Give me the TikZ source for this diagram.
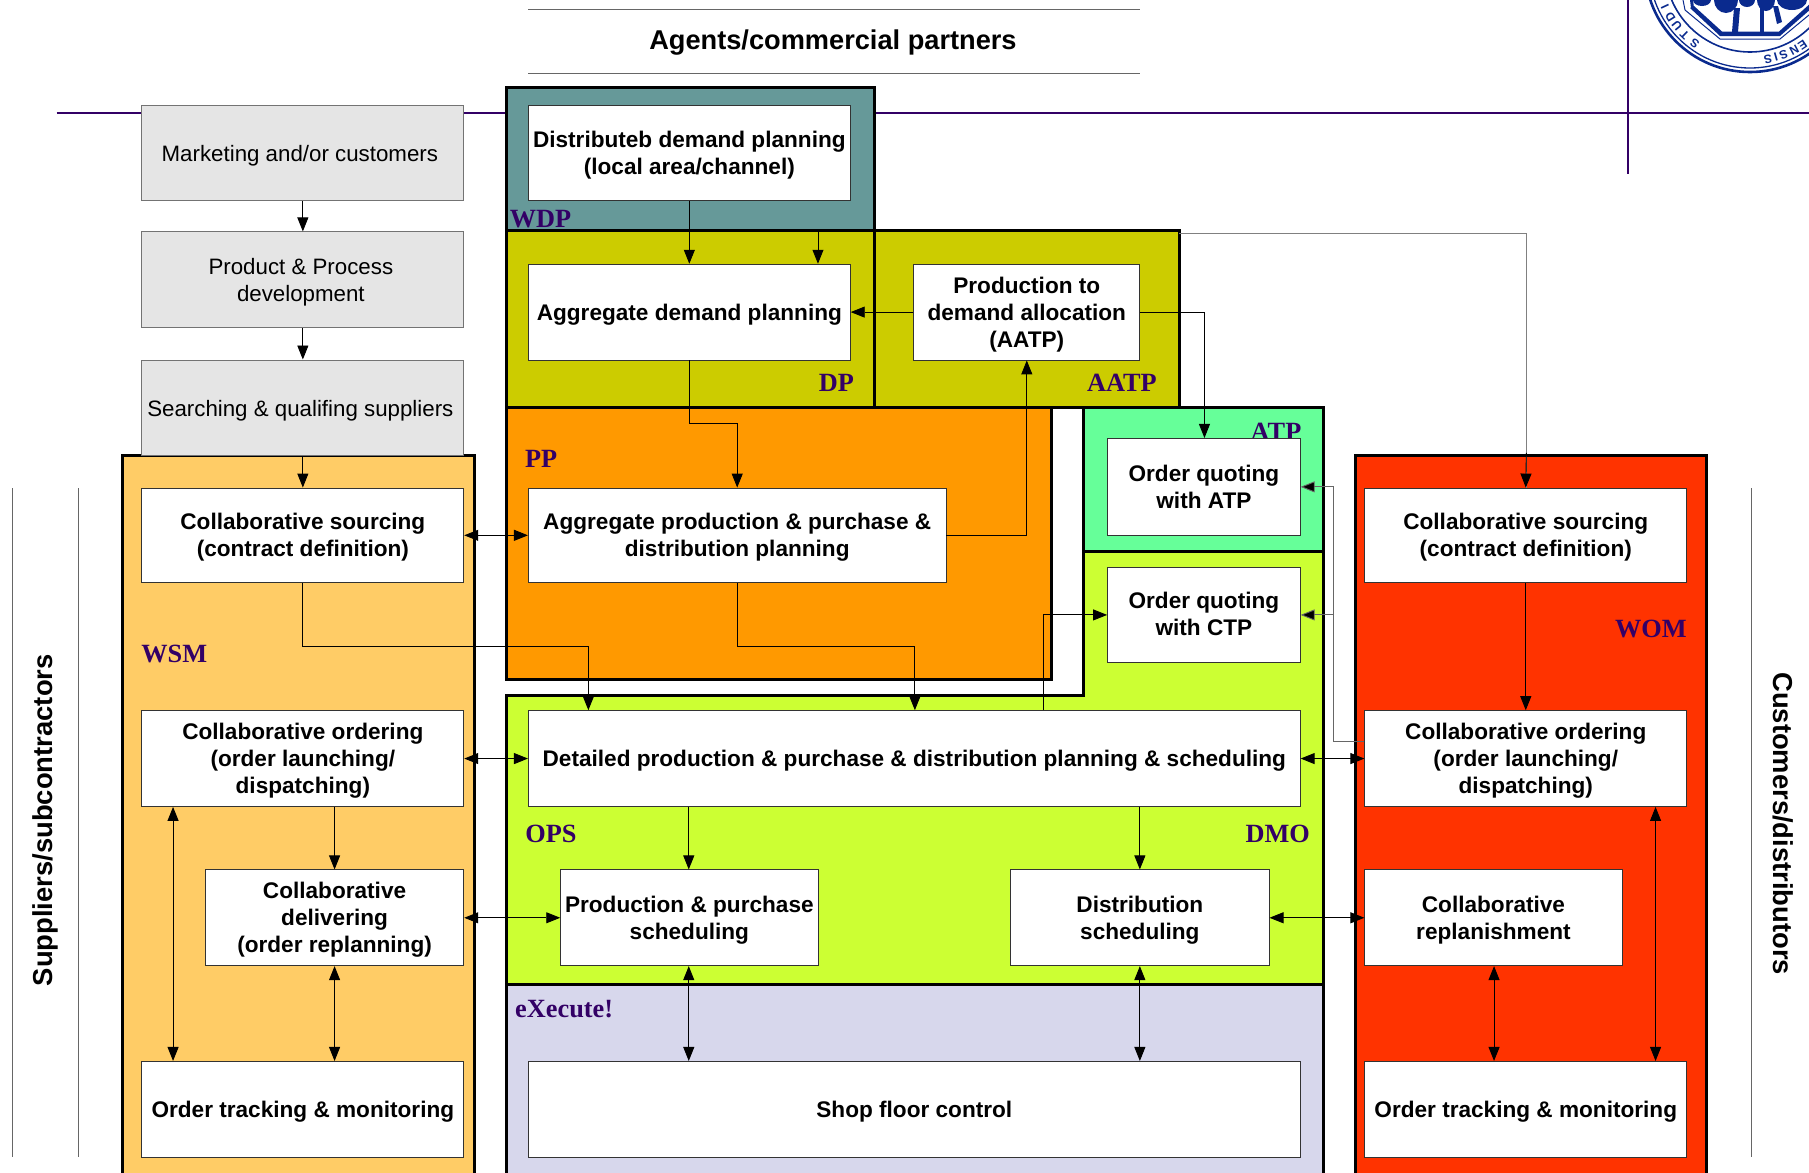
\documentclass[tikz,border=0pt]{standalone}
\usepackage{fontspec}
\setmainfont{Liberation Sans}
\newfontfamily\serfont{Liberation Serif}
\usetikzlibrary{arrows.meta,calc}
\definecolor{purp}{HTML}{330066}
\definecolor{navyl}{HTML}{0A2A8E}
\tikzset{
  panel/.style={draw=black,line width=3pt},
  boxbase/.style={draw=black!80,line width=0.9pt,inner sep=0pt,align=center,text=black},
  wbox/.style={boxbase,fill=white,font=\fontsize{22.6}{27}\selectfont\bfseries},
  gbox/.style={boxbase,draw=black!55,fill=black!10,font=\fontsize{22.3}{27}\selectfont},
  plabel/.style={text=purp,font=\fontsize{26.3}{28}\selectfont\serfont\bfseries,inner sep=0pt},
  sidelabel/.style={font=\fontsize{27.4}{30}\selectfont\bfseries,inner sep=0pt},
  thinrule/.style={draw=black!60,line width=1pt},
  purpline/.style={draw=purp,line width=2.6pt},
  arr/.style={draw=black,line width=0.9pt,-{Triangle[length=14pt,width=11pt]}},
  darr/.style={draw=black,line width=0.9pt,{Triangle[length=14pt,width=11pt]}-{Triangle[length=14pt,width=11pt]}},
  logoring/.style={draw=navyl,fill=none}
}
\newcommand{\bx}[7]{\node[#6,minimum width={(#4-#2)*1.1537pt},minimum height={(#5-#3)*1.1537pt}] (#1) at ({(#2+#4)/2},{(#3+#5)/2}) {\rule{0pt}{21pt}#7};}
\begin{document}
\begin{tikzpicture}[x=1.1537pt,y=-1.1537pt]
\useasboundingbox (0,0) rectangle (1568,1016.7);
\clip (0,0) rectangle (1568,1016.7);
% logo
\begin{scope}[x=1pt,y=1pt,shift={(0pt,-1173pt)}]
  \coordinate (lc) at (1750,1206);
  \draw[logoring,line width=2.6pt] (lc) circle[radius=105];
  \draw[logoring,line width=1.3pt] (lc) circle[radius=101];
  \draw[logoring,line width=1.6pt] (lc) circle[radius=85];
  \foreach \c/\a in {S/234,T/226,U/219,D/212,I/205,S/281,I/286,S/291,N/298,E/304}
    \node[rotate=\a-90,text=navyl,inner sep=0pt,font=\fontsize{12}{12}\selectfont\bfseries] at ($(lc)+(\a:94)$) {\c};
\end{scope}
\begin{scope}[x=1pt,y=-1pt]
  \draw[navyl,line width=1pt] (1685,10) -- (1720,39) -- (1780,39) -- (1815,10);
  \draw[navyl,line width=1pt] (1685,10) -- (1683,0);
  \fill[navyl] (1690,8) -- (1720,36) -- (1780,36) -- (1812,8) -- (1812,2) -- (1779,31.5) -- (1722,31.5) -- (1694,6) -- cycle;
  \fill[navyl] (1690,0) -- (1691,8) -- (1694,8) -- (1693,0) -- cycle;
  \fill[navyl] (1702,0) ellipse[x radius=9,y radius=6];
  \fill[navyl] (1726,0) ellipse[x radius=12,y radius=13];
  \fill[navyl] (1747,0) ellipse[x radius=8,y radius=7];
  \fill[navyl] (1766,0) ellipse[x radius=9,y radius=11];
  \fill[navyl] (1792,0) ellipse[x radius=15,y radius=10];
  \fill[navyl] (1734,8) -- (1740,8) -- (1738,32) -- (1732,32) -- cycle;
  \fill[navyl] (1773,6) -- (1778,6) -- (1782,22) -- (1777,24) -- cycle;
  \fill[navyl] (1760,4) -- (1764,4) -- (1764,32) -- (1760,32) -- cycle;
\end{scope}
% rules
\draw[purpline] (49,98) -- (1568,98);
\draw[purpline] (1411,0) -- (1411,150.5);
\draw[thinrule] (458,8) -- (988,8);
\draw[thinrule] (458,64) -- (988,64);
\draw[thinrule] (11,423) -- (11,1003);
\draw[thinrule] (68,423) -- (68,1003);
\draw[thinrule] (1518,423) -- (1518,1003);
\node[inner sep=0pt,font=\fontsize{27.2}{30}\selectfont\bfseries] (agents) at (722,37) {Agents/commercial partners};
\node[sidelabel,rotate=90] (suppliers) at (39,711) {Suppliers/subcontractors};
\node[sidelabel,rotate=-90] (customers) at (1546,714) {Customers/distributors};
% panels
\draw[panel,fill=black!10!white,draw=none] (123,312) rectangle (402,395);
\draw[panel,fill={rgb,255:red,255;green,204;blue,102}] (106,395) rectangle (411,1040);
\draw[panel,fill={rgb,255:red,102;green,153;blue,153}] (439,76) rectangle (758,200);
\draw[panel,fill={rgb,255:red,204;green,204;blue,0}] (439,200) rectangle (758,353);
\draw[panel,fill={rgb,255:red,204;green,204;blue,0}] (758,200) rectangle (1022,353);
\draw[panel,fill={rgb,255:red,255;green,153;blue,0}] (439,353) rectangle (911,589);
\draw[panel,fill={rgb,255:red,102;green,255;blue,153}] (939,353) rectangle (1147,478);
\draw[panel,fill={rgb,255:red,204;green,255;blue,51}] (939,478) -- (1147,478) -- (1147,853) -- (439,853) -- (439,603) -- (939,603) -- cycle;
\draw[panel,fill={rgb,255:red,215;green,215;blue,236}] (439,853) rectangle (1147,1040);
\draw[panel,fill={rgb,255:red,255;green,51;blue,0}] (1175,395) rectangle (1479,1040);
% panel labels
\node[plabel] (lwdp) at (468.5,190) {WDP};
\node[plabel] (ldp) at (725,332) {DP};
\node[plabel] (laatp) at (972.5,332) {AATP};
\node[plabel] (lpp) at (469,398) {PP};
\node[plabel] (latp) at (1106,374) {ATP};
\node[plabel] (lwsm) at (151,567) {WSM};
\node[plabel] (lwom) at (1431,545) {WOM};
\node[plabel] (lops) at (477.5,723) {OPS};
\node[plabel] (ldmo) at (1107.5,723) {DMO};
\node[plabel] (lexe) at (489,875) {eXecute!};
% boxes
\bx{mkt}{123}{91}{402}{174}{gbox}{\kern-6pt Marketing and/or customers}
\bx{prod}{123}{201}{402}{284}{gbox}{\kern-4pt Product \& Process\\\kern-4pt development}
\bx{srch}{123}{312}{402}{395}{gbox}{\kern-5pt Searching \& qualifing suppliers}
\bx{dist}{458}{91}{737}{174}{wbox}{Distributeb demand planning\\(local area/channel)}
\bx{agg}{458}{229}{737}{312}{wbox}{Aggregate demand planning}
\bx{ptd}{792}{229}{988}{312}{wbox}{Production to\\demand allocation\\(AATP)}
\bx{app}{458}{423}{820}{505}{wbox}{Aggregate production \& purchase \&\\distribution planning}
\bx{atp}{960}{380}{1127}{464}{wbox}{Order quoting\\with ATP\rule[-5pt]{0pt}{0pt}}
\bx{ctp}{960}{492}{1127}{574}{wbox}{Order quoting\\with CTP\rule[-7pt]{0pt}{0pt}}
\bx{det}{458}{616}{1127}{699}{wbox}{Detailed production \& purchase \& distribution planning \& scheduling}
\bx{pps}{486}{754}{709}{837}{wbox}{Production \& purchase\\scheduling}
\bx{dsc}{876}{754}{1100}{837}{wbox}{Distribution\\scheduling}
\bx{shop}{458}{920}{1127}{1003}{wbox}{Shop floor control}
\bx{ss}{123}{423}{402}{505}{wbox}{Collaborative sourcing\\(contract definition)}
\bx{so}{123}{616}{402}{699}{wbox}{Collaborative ordering\\(order launching/\\dispatching)}
\bx{sd}{178}{754}{402}{837}{wbox}{Collaborative\\delivering\\(order replanning)}
\bx{st}{123}{920}{402}{1003}{wbox}{Order tracking \& monitoring}
\bx{cs}{1183}{423}{1462}{505}{wbox}{Collaborative sourcing\\(contract definition)}
\bx{co}{1183}{616}{1462}{699}{wbox}{Collaborative ordering\\(order launching/\\dispatching)}
\bx{cr}{1183}{754}{1406}{837}{wbox}{Collaborative\\replanishment}
\bx{ct}{1183}{920}{1462}{1003}{wbox}{Order tracking \& monitoring}
% helper coordinates
\coordinate (v709) at (709,200);
\coordinate (v150) at (150,0);
\coordinate (v290) at (290,0);
\coordinate (v510) at (510,0);
\coordinate (v597) at (597,0);
\coordinate (v793) at (793,0);
\coordinate (v904) at (904,0);
\coordinate (v988) at (988,0);
\coordinate (v1044) at (1044,0);
\coordinate (v1156) at (1156,0);
\coordinate (v1295) at (1295,0);
\coordinate (v1323) at (1323,0);
\coordinate (v1435) at (1435,0);
\coordinate (aatpc) at (1022,202);
\coordinate (h643) at (0,643);
\coordinate (h367) at (0,367);
\coordinate (h560) at (0,560);
% connectors
\draw[arr] (mkt.south) -- (prod.north);
\draw[arr] (prod.south) -- (srch.north);
\draw[arr] (srch.south) -- (ss.north);
\draw[arr] (dist.south) -- (agg.north);
\draw[arr] (v709) -- (v709 |- agg.north);
\draw[arr] (ptd.west) -- (agg.east);
\draw[arr] (ptd.east) -| (v1044 |- atp.north);
\draw[line width=0.9pt,draw=black!50] (aatpc) -| (v1323 |- cs.north);
\draw[arr] (v1323 |- ss.north) ++(0,-30) -- (cs.north);
\draw[arr] (agg.south) |- (app.north |- h367) -- (app.north);
\draw[arr] (app.east) -| (ptd.south);
\draw[darr] (ss.east) -- (app.west);
\draw[arr] (ss.south) |- (v510 |- h560) -- (v510 |- det.north);
\draw[arr] (app.south) |- (v793 |- h560) -- (v793 |- det.north);
\draw[arr] (v904 |- det.north) |- (ctp.west);
\draw[darr] (so.east) -- (det.west);
\draw[darr] (det.east) -- (co.west);
\draw[line width=0.9pt,draw=black!60] (co.west |- h643) -| (v1156 |- atp.east);
\draw[arr,draw=black!60,-{Triangle[length=14pt,width=11pt,fill=black]}] (v1156 |- atp.east) -- (atp.east);
\draw[arr,draw=black!60,-{Triangle[length=14pt,width=11pt,fill=black]}] (v1156 |- ctp.east) -- (ctp.east);
\draw[arr] (v290 |- so.south) -- (v290 |- sd.north);
\draw[darr] (v150 |- so.south) -- (v150 |- st.north);
\draw[darr] (v290 |- sd.south) -- (v290 |- st.north);
\draw[darr] (sd.east) -- (pps.west);
\draw[darr] (dsc.east) -- (cr.west);
\draw[arr] (v597 |- det.south) -- (v597 |- pps.north);
\draw[arr] (v988 |- det.south) -- (v988 |- dsc.north);
\draw[darr] (v597 |- pps.south) -- (v597 |- shop.north);
\draw[darr] (v988 |- dsc.south) -- (v988 |- shop.north);
\draw[arr] (cs.south) -- (co.north);
\draw[darr] (v1295 |- cr.south) -- (v1295 |- ct.north);
\draw[darr] (v1435 |- co.south) -- (v1435 |- ct.north);
\end{tikzpicture}
\end{document}
